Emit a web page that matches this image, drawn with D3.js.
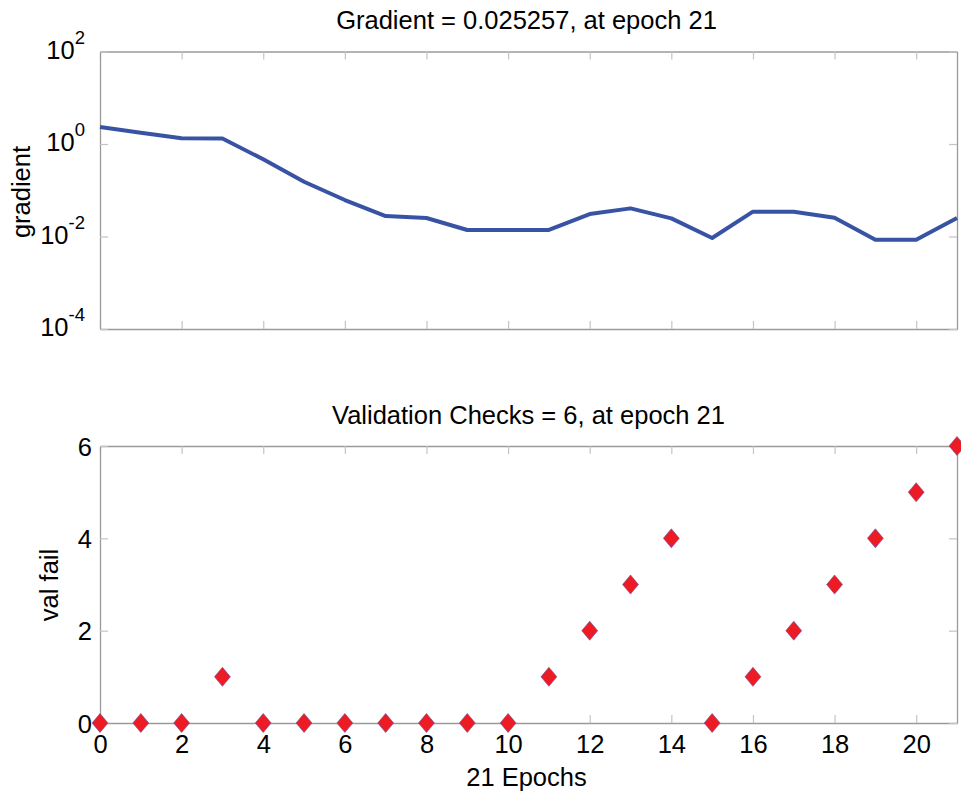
<!DOCTYPE html>
<html>
<head>
<meta charset="utf-8">
<script src="https://cdn.jsdelivr.net/npm/d3@7/dist/d3.min.js"></script>
<style>
  body { margin: 0; background: #fff; }
  text { font-family: "Liberation Sans", Arial, Helvetica, sans-serif; fill: #000; }
</style>
</head>
<body>
<svg id="chart" width="961" height="792"></svg>
<script>
// ── data ─────────────────────────────────────────────────────
const epochs   = [0, 1, 2, 3, 4, 5, 6, 7, 8, 9, 10, 11, 12, 13, 14, 15, 16, 17, 18, 19, 20, 21];
const gradient = [2.33, 1.76, 1.33, 1.31, 0.467, 0.153, 0.0615, 0.0277, 0.0251, 0.0138, 0.0139,
                  0.0139, 0.0306, 0.0406, 0.0247, 0.0093, 0.0344, 0.0344, 0.0255, 0.0085, 0.0085, 0.025257];
const valFail  = [0, 0, 0, 1, 0, 0, 0, 0, 0, 0, 0, 1, 2, 3, 4, 0, 1, 2, 3, 4, 5, 6];

const xTicks     = [0, 2, 4, 6, 8, 10, 12, 14, 16, 18, 20];
const gradTicks  = [1e-4, 1e-2, 1e0, 1e2];
const failTicks  = [0, 2, 4, 6];

const titleTop    = 'Gradient = 0.025257, at epoch 21';
const titleBottom = 'Validation Checks = 6, at epoch 21';
const xLabel      = '21 Epochs';

// ── layout ───────────────────────────────────────────────────
const svg = d3.select('#chart');
const L = 100, R = 957;
const top1 = 51.5, bot1 = 329;
const top2 = 446,  bot2 = 723;
const FS = 25.5;

const x = d3.scaleLinear().domain([0, 21]).range([L, R]);
const yG = d3.scaleLog().domain([1e-4, 1e2]).range([bot1, top1]);
const yV = d3.scaleLinear().domain([0, 6]).range([bot2, top2]);

function styleAxis(g) {
  g.select('.domain').attr('stroke', '#9a9a9a').attr('stroke-width', 1.3);
  g.selectAll('.tick line').attr('stroke', '#c4c4c4').attr('stroke-width', 1.2);
  g.selectAll('.tick text').attr('font-size', FS).attr('fill', '#000');
}

function frame(yScale, yTickVals, yTop, yBot, showX) {
  const xb = d3.axisBottom(x).tickValues(xTicks).tickSize(-8).tickSizeOuter(0).tickPadding(12)
    .tickFormat(showX ? d3.format('d') : () => '');
  svg.append('g').attr('transform', `translate(0,${yBot})`).call(xb).call(styleAxis)
    .selectAll('text').attr('dy', '0.71em');
  svg.append('g').attr('transform', `translate(0,${yTop})`)
    .call(d3.axisTop(x).tickValues(xTicks).tickSize(-8).tickSizeOuter(0).tickFormat(() => ''))
    .call(styleAxis);
  svg.append('g').attr('transform', `translate(${R},0)`)
    .call(d3.axisRight(yScale).tickValues(yTickVals).tickSize(-8).tickSizeOuter(0).tickFormat(() => ''))
    .call(styleAxis);
  return svg.append('g').attr('transform', `translate(${L},0)`);
}

// ── top: gradient (log) ──────────────────────────────────────
const leftG = frame(yG, gradTicks, top1, bot1, false);
leftG.call(d3.axisLeft(yG).tickValues(gradTicks).tickSize(-8).tickSizeOuter(0).tickPadding(15)
  .tickFormat(() => ''))
  .call(styleAxis);
leftG.selectAll('.tick text').each(function (d) {
  const t = d3.select(this).attr('dy', '0.27em');
  t.text('10');
  t.append('tspan').attr('dy', -15).attr('font-size', 18.5).text(String(Math.round(Math.log10(d))));
});

svg.append('path')
  .datum(epochs.map((e, i) => [e, gradient[i]]))
  .attr('fill', 'none')
  .attr('stroke', '#3953a4')
  .attr('stroke-width', 4)
  .attr('stroke-linejoin', 'round')
  .attr('d', d3.line().x(d => x(d[0])).y(d => yG(d[1])));

svg.append('text').attr('x', (L + R) / 2 - 2).attr('y', 29).attr('text-anchor', 'middle')
  .attr('font-size', FS).text(titleTop);
svg.append('text').attr('transform', 'translate(30,192) rotate(-90)').attr('text-anchor', 'middle')
  .attr('font-size', FS).text('gradient');

// ── bottom: validation checks ────────────────────────────────
const leftV = frame(yV, failTicks, top2, bot2, true);
leftV.call(d3.axisLeft(yV).tickValues(failTicks).tickSize(-8).tickSizeOuter(0).tickPadding(8)
  .tickFormat(d3.format('d')))
  .call(styleAxis);
leftV.selectAll('.tick text').attr('dy', '0.36em');

const diamond = {
  draw(ctx, size) {
    const w = Math.sqrt(size) * 0.46, h = Math.sqrt(size) * 0.55;
    ctx.moveTo(0, -h); ctx.lineTo(w, 0); ctx.lineTo(0, h); ctx.lineTo(-w, 0); ctx.closePath();
  }
};

svg.append('g').selectAll('path')
  .data(epochs.map((e, i) => [e, valFail[i]]))
  .join('path')
  .attr('transform', d => `translate(${x(d[0])},${yV(d[1])})`)
  .attr('d', d3.symbol().type(diamond).size(300))
  .attr('fill', '#ed1c24')
  .attr('stroke', '#6a4fa0')
  .attr('stroke-width', 0.6);

svg.append('text').attr('x', (L + R) / 2).attr('y', 424).attr('text-anchor', 'middle')
  .attr('font-size', FS).text(titleBottom);
svg.append('text').attr('transform', 'translate(58,585) rotate(-90)').attr('text-anchor', 'middle')
  .attr('font-size', FS).text('val fail');
svg.append('text').attr('x', (L + R) / 2 - 2).attr('y', 786).attr('text-anchor', 'middle')
  .attr('font-size', FS).text(xLabel);
</script>
</body>
</html>
